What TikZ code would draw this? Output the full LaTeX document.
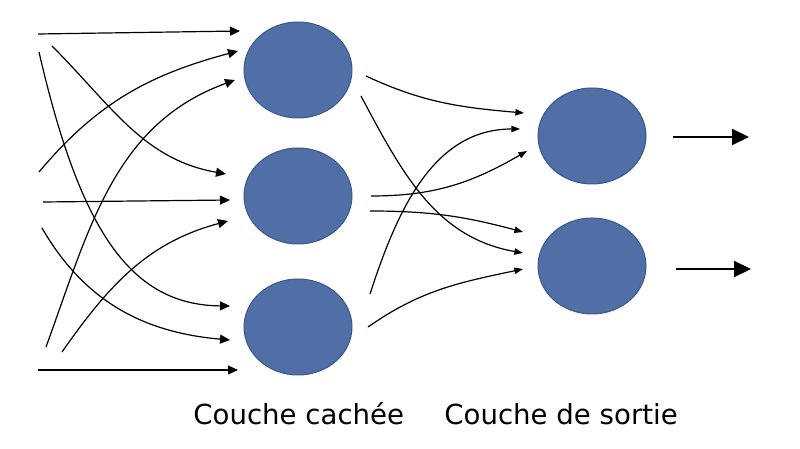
\documentclass[tikz,border=0pt]{standalone}
\usepackage{fontspec}
\setmainfont{DejaVu Sans}
\usetikzlibrary{positioning, calc, arrows.meta, shapes.geometric}
\definecolor{neuronblue}{HTML}{4F6FA6}
\definecolor{neuronedge}{HTML}{3B5787}

\begin{document}
\begin{tikzpicture}[x=0.5pt, y=-0.5pt,
    neuron/.style={ellipse, fill=neuronblue, draw=neuronedge, line width=0.5pt,
        minimum width=54pt, minimum height=48pt, inner sep=0pt},
    syn/.style={line width=0.6pt, -{Triangle[length=5pt, width=4.5pt]}},
    synb/.style={line width=0.6pt, -{Triangle[length=4.3pt, width=3.2pt]}},
    outarrow/.style={line width=1.1pt, -{Triangle[length=8.5pt, width=8pt]}}]

    \useasboundingbox (0,0) rectangle (800,449);

    % hidden layer
    \node[neuron] (h1) at (298,70)  {};
    \node[neuron] (h2) at (298,196) {};
    \node[neuron] (h3) at (298,327) {};

    % output layer
    \node[neuron] (o1) at (592,136) {};
    \node[neuron] (o2) at (592,266) {};

    % free ends of the inputs
    \coordinate (i1) at (38,34);
    \coordinate (i2) at (52,46);
    \coordinate (i3) at (39,52);
    \coordinate (i4) at (39,172);
    \coordinate (i5) at (43,202);
    \coordinate (i6) at (42,228);
    \coordinate (i7) at (46,347);
    \coordinate (i8) at (62,352);
    \coordinate (i9) at (38,370);

    % tips in front of the hidden layer
    \coordinate (h1a) at (240,31);
    \coordinate (h1b) at (238,51);
    \coordinate (h1c) at (235,80);
    \coordinate (h2a) at (226,174);
    \coordinate (h2b) at (230,200);
    \coordinate (h2c) at (228,221);
    \coordinate (h3a) at (230,306);
    \coordinate (h3b) at (230,340);
    \coordinate (h3c) at (238,370);

    % inputs -> hidden
    \draw[syn] (i1) -- (h1a);
    \draw[syn] (i2) to[out=-45, in=170] (h2a);
    \draw[syn] (i3) .. controls (80,230) and (130,305) .. (h3a);
    \draw[syn] (i4) to[out=50, in=-165] (h1b);
    \draw[syn] (i5) -- (h2b);
    \draw[syn] (i6) to[out=-60, in=175] (h3b);
    \draw[syn] (i7) to[out=70, in=-160] (h1c);
    \draw[syn] (i8) to[out=55, in=-165] (h2c);
    \draw[syn] (i9) -- (h3c);

    % hidden -> output
    \coordinate (h1o) at (366,76);
    \coordinate (h1p) at (361,96);
    \coordinate (h2o) at (371,196);
    \coordinate (h2p) at (370,211);
    \coordinate (h3o) at (370,294);
    \coordinate (h3p) at (368,327);
    \coordinate (o1a) at (524,113);
    \coordinate (o1b) at (520,129);
    \coordinate (o1c) at (527,151);
    \coordinate (o2a) at (523,232);
    \coordinate (o2b) at (523,253);
    \coordinate (o2c) at (523,269);

    \draw[synb] (h1o) to[out=-25, in=175] (o1a);
    \draw[synb] (h1p) to[out=-62, in=170] (o2b);
    \draw[synb] (h2o) to[out=0, in=-150] (o1c);
    \draw[synb] (h2p) to[out=0, in=165] (o2a);
    \draw[synb] (h3o) to[out=72, in=180] (o1b);
    \draw[synb] (h3p) to[out=35, in=-168] (o2c);

    % outputs
    \coordinate (y1s) at (673,137);
    \coordinate (y1e) at (749,137);
    \coordinate (y2s) at (676,269);
    \coordinate (y2e) at (751,269);
    \draw[outarrow] (y1s) -- (y1e);
    \draw[outarrow] (y2s) -- (y2e);

    % labels
    \node[anchor=base west, inner sep=0pt, font=\fontsize{13.8pt}{16pt}\selectfont]
        (lblh) at (193,425) {Couche cachée};
    \node[anchor=base west, inner sep=0pt, font=\fontsize{13.8pt}{16pt}\selectfont]
        (lblo) at (444,425) {Couche de sortie};

\end{tikzpicture}
\end{document}
